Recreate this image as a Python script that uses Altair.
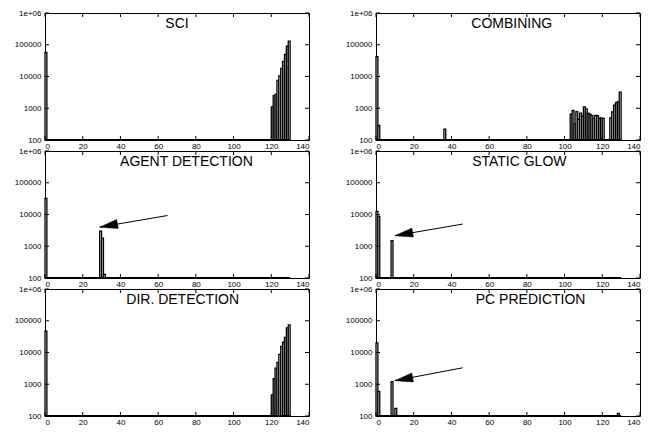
import altair as alt
import pandas as pd

X_TICKS = [0, 20, 40, 60, 80, 100, 120, 140]
Y_TICKS = [100, 1000, 10000, 100000, 1000000]

sci_x = [0, 120, 121, 122, 123, 124, 125, 126, 127, 128, 129]
sci_y = [57000, 1100, 2500, 2800, 7500, 10500, 18000, 30000, 50000, 91000, 130000]

comb_x = [0, 1, 36] + list(range(103, 121)) + list(range(124, 130))
comb_y = [42000, 290, 220,
          650, 850, 320, 780, 450, 700, 560, 1100, 950, 700, 650, 600, 480, 600, 580, 480, 500, 480,
          500, 770, 1250, 1500, 1600, 3200]

agent_x = [0, 29, 30, 31]
agent_y = [32000, 3000, 1800, 130]

glow_x = [0, 1, 8]
glow_y = [12600, 8700, 1500]

dir_x = [0, 120, 121, 122, 123, 124, 125, 126, 127, 128, 129]
dir_y = [47000, 460, 1500, 3200, 4900, 8700, 15500, 21000, 30000, 60000, 74000]

pc_x = [0, 1, 8, 10, 128]
pc_y = [20000, 600, 1200, 175, 120]

# arrows: [tail, tip]
agent_arrow_x = [65, 29]
agent_arrow_y = [9300, 4000]
glow_arrow_x = [46, 10]
glow_arrow_y = [5000, 2150]
pc_arrow_x = [46, 10]
pc_arrow_y = [3300, 1300]

titles = ["SCI", "COMBINING", "AGENT DETECTION", "STATIC GLOW", "DIR. DETECTION", "PC PREDICTION"]
title_x = [70, 72, 75, 76, 73, 82]

W, H = 264, 127
FONT = "Liberation Sans"

xsc = alt.Scale(domain=[0, 140], nice=False, zero=False)
ysc = alt.Scale(type="log", domain=[100, 1000000], nice=False)
xax = alt.Axis(values=X_TICKS, title=None, labelPadding=2)
yax = alt.Axis(values=Y_TICKS, title=None, labelPadding=4,
               labelExpr="datum.value >= 1000000 ? '1e+06' : format(datum.value, 'd')")


def panel(title, tx, xs, ys, arrow=None):
    df = pd.DataFrame({"x": xs, "x2": [v + 1 for v in xs], "count": ys})
    bars = alt.Chart(df).mark_bar(fill="#f0f0f0", stroke="black", strokeWidth=1.3).encode(
        x=alt.X("x:Q", scale=xsc, axis=xax),
        x2="x2:Q",
        y=alt.Y("count:Q", scale=ysc, axis=yax),
        y2=alt.datum(100),
    )
    base = alt.Chart(pd.DataFrame({"a": [0]})).mark_rule(color="black", strokeWidth=2).encode(
        x=alt.X(datum=0, scale=xsc, axis=xax),
        x2=alt.datum(130),
        y=alt.Y(datum=100, scale=ysc, axis=yax),
    )
    xt = pd.DataFrame({"t": X_TICKS})
    yt = pd.DataFrame({"t": Y_TICKS})
    tb = alt.Chart(xt).mark_rule(color="black").encode(
        x=alt.X("t:Q", scale=xsc, axis=xax), y=alt.value(H), y2=alt.value(H - 4))
    tt = alt.Chart(xt).mark_rule(color="black").encode(
        x=alt.X("t:Q", scale=xsc, axis=xax), y=alt.value(0), y2=alt.value(4))
    tl = alt.Chart(yt).mark_rule(color="black").encode(
        y=alt.Y("t:Q", scale=ysc, axis=yax), x=alt.value(0), x2=alt.value(4))
    tr = alt.Chart(yt).mark_rule(color="black").encode(
        y=alt.Y("t:Q", scale=ysc, axis=yax), x=alt.value(W), x2=alt.value(W - 4))
    txt = alt.Chart(pd.DataFrame({"a": [0]})).mark_text(
        font=FONT, fontSize=14, align="center", baseline="middle", color="black", text=title
    ).encode(x=alt.X(datum=tx, scale=xsc, axis=xax), y=alt.value(11))
    layers = [bars, base, tb, tt, tl, tr, txt]
    if arrow is not None:
        ax, ay = arrow
        adf = pd.DataFrame({"x": ax, "y": ay, "o": [0, 1]})
        shaft = alt.Chart(adf).mark_line(color="black", strokeWidth=1).encode(
            x=alt.X("x:Q", scale=xsc, axis=xax), y=alt.Y("y:Q", scale=ysc, axis=yax), order="o:Q")
        head = alt.Chart(adf.iloc[[1]]).mark_point(
            shape="M0,0 L2,-0.5 L2,0.5 Z", size=324, angle=350, filled=True,
            fill="black", stroke="black", strokeWidth=0.5, opacity=1
        ).encode(x=alt.X("x:Q", scale=xsc, axis=xax), y=alt.Y("y:Q", scale=ysc, axis=yax))
        layers += [shaft, head]
    return alt.layer(*layers).properties(width=W, height=H)


p1 = panel(titles[0], title_x[0], sci_x, sci_y)
p2 = panel(titles[1], title_x[1], comb_x, comb_y)
p3 = panel(titles[2], title_x[2], agent_x, agent_y, (agent_arrow_x, agent_arrow_y))
p4 = panel(titles[3], title_x[3], glow_x, glow_y, (glow_arrow_x, glow_arrow_y))
p5 = panel(titles[4], title_x[4], dir_x, dir_y)
p6 = panel(titles[5], title_x[5], pc_x, pc_y, (pc_arrow_x, pc_arrow_y))

chart = alt.concat(p1, p2, p3, p4, p5, p6, columns=2,
                   spacing={"row": 11, "column": 67}, bounds="flush").properties(
    padding={"left": 5, "top": 0, "right": 0, "bottom": 0}
).configure_view(stroke="black", strokeWidth=1).configure_axis(
    domain=False, ticks=False, grid=False, labelFont=FONT, labelFontSize=8, labelColor="black"
)

chart.save("out.html", embed_options={"renderer": "svg", "actions": False})
